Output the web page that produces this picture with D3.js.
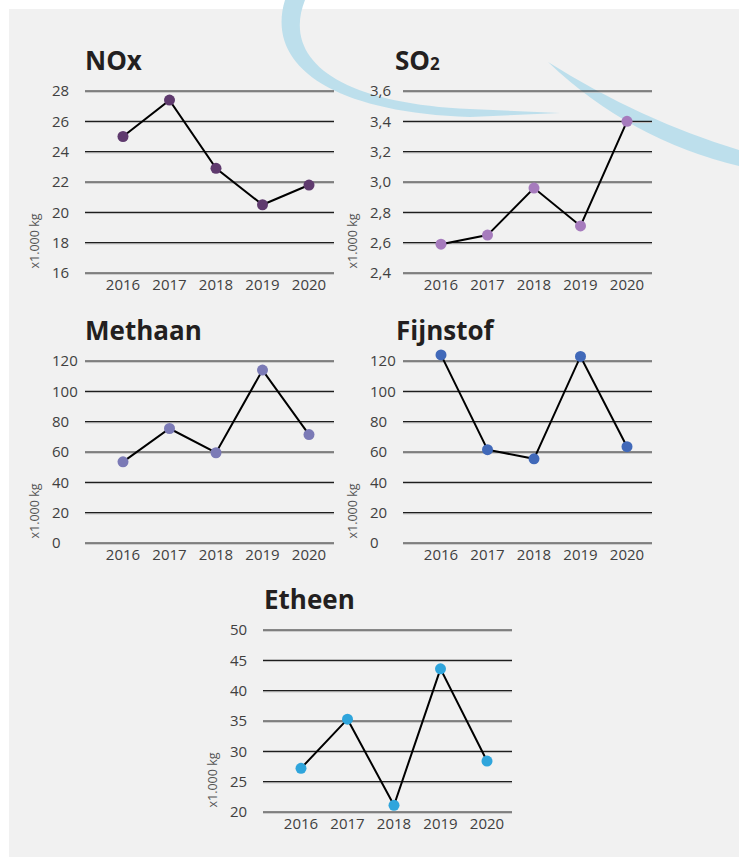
<!DOCTYPE html>
<html>
<head>
<meta charset="utf-8">
<script src="https://cdn.jsdelivr.net/npm/d3@7"></script>
<style>
	body { margin: 0; background: #fff; }
	svg { display: block; }
	.tick-label, .year-label { font-family: "Open Sans", sans-serif; font-size: 15px; fill: #404040; }
	.unit-label { font-family: "Open Sans", sans-serif; font-size: 12.5px; fill: #555; }
	.title { font-family: "Open Sans", sans-serif; font-size: 26px; font-weight: bold; fill: #231f20; }
</style>
</head>
<body>
<div id="chart"></div>
<script>
// data
const years = [2016, 2017, 2018, 2019, 2020];

const noxValues = [25.0, 27.4, 22.9, 20.5, 21.8];
const noxTicks = [16, 18, 20, 22, 24, 26, 28];

const so2Values = [2.59, 2.65, 2.96, 2.71, 3.40];
const so2Ticks = [2.4, 2.6, 2.8, 3.0, 3.2, 3.4, 3.6];

const methaanValues = [53.5, 75.5, 59.5, 114, 71.5];
const methaanTicks = [0, 20, 40, 60, 80, 100, 120];

const fijnstofValues = [124, 61.5, 55.5, 123, 63.5];
const fijnstofTicks = [0, 20, 40, 60, 80, 100, 120];

const etheenValues = [27.2, 35.3, 21.1, 43.6, 28.4];
const etheenTicks = [20, 25, 30, 35, 40, 45, 50];

const unitLabel = "x1.000 kg";

// panels: where each small chart sits
const panels = [
	{ title: "NOx", sub: null, values: noxValues, ticks: noxTicks, color: "#5f3a6e", left: 85, top: 91, titleX: 85, decimals: 0 },
	{ title: "SO", sub: "2", values: so2Values, ticks: so2Ticks, color: "#a67bbd", left: 403, top: 91, titleX: 395, decimals: 1 },
	{ title: "Methaan", sub: null, values: methaanValues, ticks: methaanTicks, color: "#7b7ab6", left: 85, top: 361, titleX: 85, decimals: 0 },
	{ title: "Fijnstof", sub: null, values: fijnstofValues, ticks: fijnstofTicks, color: "#4169b9", left: 403, top: 361, titleX: 396, decimals: 0 },
	{ title: "Etheen", sub: null, values: etheenValues, ticks: etheenTicks, color: "#2fa5dc", left: 263, top: 630, titleX: 264, decimals: 0 }
];

const width = 739;
const height = 857;
const plotW = 249;
const plotH = 182;

const svg = d3.select("#chart").append("svg")
	.attr("width", width)
	.attr("height", height);

// grey card
svg.append("rect")
	.attr("x", 9).attr("y", 9)
	.attr("width", width - 9).attr("height", height - 9)
	.attr("fill", "#f1f1f1");

// decorative swooshes at the top
svg.append("path")
	.attr("d", "M285,0 C266,62 325,112 470,117 L560,113 L470,109 C335,103 282,58 305,0 Z")
	.attr("fill", "#bddfec");
svg.append("path")
	.attr("d", "M548,62 Q640,120 739,150 L739,166 Q630,140 548,62 Z")
	.attr("fill", "#bddfec");

const fmtComma = d3.format(".1f");

panels.forEach(function(p) {
	const g = svg.append("g").attr("transform", "translate(" + p.left + "," + p.top + ")");

	const x = d3.scalePoint()
		.domain(years)
		.range([38, 224]);
	const y = d3.scaleLinear()
		.domain(d3.extent(p.ticks))
		.range([plotH, 0]);

	// gridlines (dark line with a soft shadow under it)
	g.selectAll("line.shadow")
		.data(p.ticks)
		.enter().append("line")
		.attr("class", "shadow")
		.attr("x1", 0).attr("x2", plotW)
		.attr("y1", d => y(d) + 1.2).attr("y2", d => y(d) + 1.2)
		.attr("stroke", "#bdbdbd")
		.attr("stroke-width", 1);
	g.selectAll("line.grid")
		.data(p.ticks)
		.enter().append("line")
		.attr("class", "grid")
		.attr("x1", 0).attr("x2", plotW)
		.attr("y1", d => y(d)).attr("y2", d => y(d))
		.attr("stroke", "#1e1e1e")
		.attr("stroke-width", 1.1);

	// y tick labels, left aligned like the original
	g.selectAll("text.tick-label")
		.data(p.ticks)
		.enter().append("text")
		.attr("class", "tick-label")
		.attr("x", -33)
		.attr("y", d => y(d))
		.attr("dy", "0.36em")
		.text(d => p.decimals ? fmtComma(d).replace(".", ",") : d);

	// year labels
	g.selectAll("text.year-label")
		.data(years)
		.enter().append("text")
		.attr("class", "year-label")
		.attr("x", d => x(d))
		.attr("y", plotH + 17)
		.attr("text-anchor", "middle")
		.text(d => d);

	// unit label
	g.append("text")
		.attr("class", "unit-label")
		.attr("transform", "translate(-46," + 150 + ") rotate(-90)")
		.attr("text-anchor", "middle")
		.text(unitLabel);

	// title
	const t = svg.append("text")
		.attr("class", "title")
		.attr("x", p.titleX)
		.attr("y", p.top - 21)
		.text(p.title);
	if (p.sub) {
		t.append("tspan").style("font-size", "17px").text(p.sub);
	}

	// line + dots
	const pts = years.map((yr, i) => [x(yr), y(p.values[i])]);
	g.append("path")
		.attr("d", d3.line()(pts))
		.attr("fill", "none")
		.attr("stroke", "#000")
		.attr("stroke-width", 2);

	g.selectAll("circle")
		.data(p.values)
		.enter().append("circle")
		.attr("cx", (d, i) => x(years[i]))
		.attr("cy", d => y(d))
		.attr("r", 5.5)
		.attr("fill", p.color);
});
</script>
</body>
</html>
